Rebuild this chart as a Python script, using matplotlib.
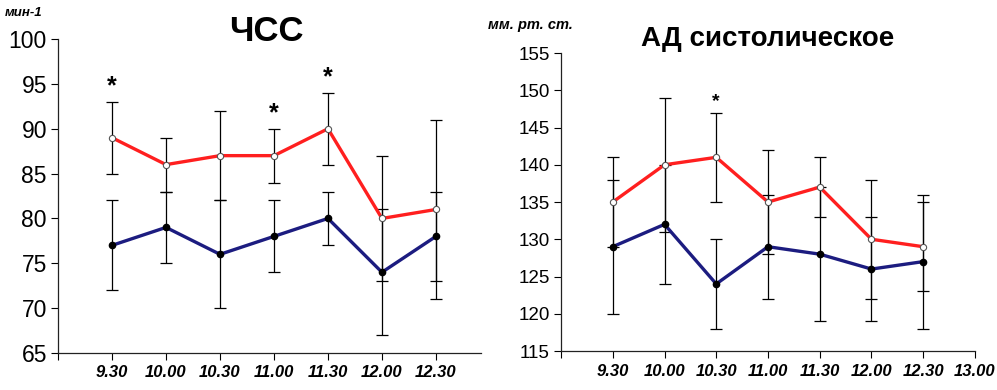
import matplotlib
matplotlib.use("Agg")
import matplotlib.pyplot as plt

plt.rcParams['font.family'] = ['Liberation Sans', 'DejaVu Sans']

times_hr = ["9.30", "10.00", "10.30", "11.00", "11.30", "12.00", "12.30"]
hr_red = [89, 86, 87, 87, 90, 80, 81]
hr_red_err = [4, 3, 5, 3, 4, 7, 10]
hr_blue = [77, 79, 76, 78, 80, 74, 78]
hr_blue_err = [5, 4, 6, 4, 3, 7, 5]
hr_star = ["9.30", "11.00", "11.30"]

times_bp = ["9.30", "10.00", "10.30", "11.00", "11.30", "12.00", "12.30", "13.00"]
bp_red = [135, 140, 141, 135, 137, 130, 129]
bp_red_err = [6, 9, 6, 7, 4, 8, 6]
bp_blue = [129, 132, 124, 129, 128, 126, 127]
bp_blue_err = [9, 8, 6, 7, 9, 7, 9]
bp_star = ["10.30"]

RED = "#ff1f1f"
BLUE = "#1c1c80"

fig = plt.figure(figsize=(9.97, 3.9), dpi=100)
ax1 = fig.add_axes([0.0582, 0.0949, 0.424, 0.805])
ax2 = fig.add_axes([0.5627, 0.100, 0.4152, 0.764])


def draw(ax, labels, red, rerr, blue, berr, stars, ylim, yticks, xmax, ytick_fs, star_fs):
    n = len(red)
    x = list(range(1, n + 1))
    ax.errorbar(x, red, yerr=rerr, fmt='none', ecolor='black', elinewidth=0.9,
                capsize=4, capthick=0.9, zorder=2)
    ax.errorbar(x, blue, yerr=berr, fmt='none', ecolor='black', elinewidth=0.9,
                capsize=4, capthick=0.9, zorder=2)
    ax.plot(x, red, color=RED, lw=2.4, zorder=3)
    ax.plot(x, red, 'o', ms=4.5, mfc='white', mec='#555555', mew=0.8, zorder=4)
    ax.plot(x, blue, color=BLUE, lw=2.4, zorder=3)
    ax.plot(x, blue, 'o', ms=4.5, mfc='black', mec='black', zorder=4)
    for s in stars:
        i = labels.index(s)
        ax.text(x[i], red[i] + rerr[i] + 0.4, "*", ha='center', va='bottom',
                fontsize=star_fs, fontweight='bold')
    ax.set_ylim(*ylim)
    ax.set_yticks(yticks)
    ax.set_xlim(0, xmax)
    ax.set_xticks(range(0, len(labels) + 1))
    ax.set_xticklabels([""] + labels, fontsize=12, fontweight='bold', style='italic')
    ax.tick_params(axis='y', labelsize=ytick_fs, direction='out', length=5, width=0.8, pad=3)
    ax.tick_params(axis='x', direction='out', length=5, width=0.8, pad=4)
    for sp in ['top', 'right']:
        ax.spines[sp].set_visible(False)
    for sp in ['left', 'bottom']:
        ax.spines[sp].set_linewidth(0.9)
        ax.spines[sp].set_color('#222222')


draw(ax1, times_hr, hr_red, hr_red_err, hr_blue, hr_blue_err, hr_star,
     (65, 100), range(65, 101, 5), 7.83, 16.5, 18)
draw(ax2, times_bp, bp_red, bp_red_err, bp_blue, bp_blue_err, bp_star,
     (115, 155), range(115, 156, 5), 7.96, 13.5, 14)

fig.text(0.267, 0.918, "ЧСС", fontsize=25, fontweight='bold', ha='center', va='center')
fig.text(0.770, 0.900, "АД систолическое", fontsize=20, fontweight='bold', ha='center', va='center')
fig.text(0.005, 0.967, "мин-1", fontsize=9.5, fontweight='bold', style='italic', ha='left', va='center')
fig.text(0.489, 0.936, "мм. рт. ст.", fontsize=10.5, fontweight='bold', style='italic', ha='left', va='center')

fig.savefig("out.png", dpi=100)
